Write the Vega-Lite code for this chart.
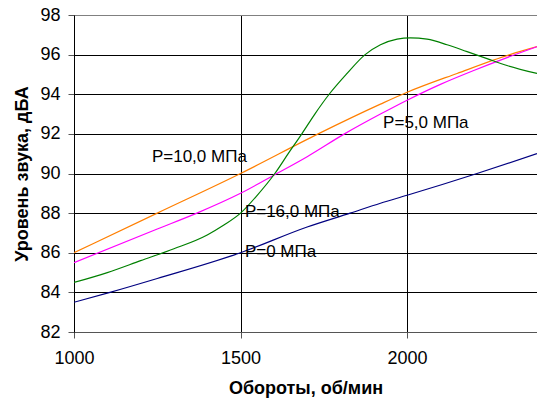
{
  "$schema": "https://vega.github.io/schema/vega-lite/v6.json",
  "autosize": "none",
  "width": 463,
  "height": 317,
  "padding": {"left": 74, "top": 15, "right": 0, "bottom": 71},
  "background": "white",
  "config": {
    "view": {"stroke": null},
    "font": "Liberation Sans"
  },
  "datasets": {
    "lines": [
      {"s": "P=0", "rpm": 1000, "db": 83.5},
      {"s": "P=0", "rpm": 1108, "db": 84.0},
      {"s": "P=0", "rpm": 1250, "db": 84.7},
      {"s": "P=0", "rpm": 1500, "db": 86.0},
      {"s": "P=0", "rpm": 1700, "db": 87.3},
      {"s": "P=0", "rpm": 1829, "db": 88.0},
      {"s": "P=0", "rpm": 1920, "db": 88.5},
      {"s": "P=0", "rpm": 2000, "db": 88.9},
      {"s": "P=0", "rpm": 2210, "db": 90.0},
      {"s": "P=0", "rpm": 2390, "db": 91.0},
      {"s": "P=10", "rpm": 1000, "db": 86.0},
      {"s": "P=10", "rpm": 1250, "db": 88.0},
      {"s": "P=10", "rpm": 1500, "db": 90.0},
      {"s": "P=10", "rpm": 1733, "db": 92.0},
      {"s": "P=10", "rpm": 1920, "db": 93.5},
      {"s": "P=10", "rpm": 2000, "db": 94.1},
      {"s": "P=10", "rpm": 2150, "db": 95.05},
      {"s": "P=10", "rpm": 2309, "db": 96.0},
      {"s": "P=10", "rpm": 2390, "db": 96.4},
      {"s": "P=5", "rpm": 1000, "db": 85.5},
      {"s": "P=5", "rpm": 1250, "db": 87.2},
      {"s": "P=5", "rpm": 1369, "db": 88.0},
      {"s": "P=5", "rpm": 1500, "db": 89.0},
      {"s": "P=5", "rpm": 1609, "db": 90.0},
      {"s": "P=5", "rpm": 1700, "db": 90.85},
      {"s": "P=5", "rpm": 1812, "db": 92.0},
      {"s": "P=5", "rpm": 1920, "db": 93.0},
      {"s": "P=5", "rpm": 2000, "db": 93.7},
      {"s": "P=5", "rpm": 2100, "db": 94.5},
      {"s": "P=5", "rpm": 2200, "db": 95.2},
      {"s": "P=5", "rpm": 2300, "db": 95.85},
      {"s": "P=5", "rpm": 2390, "db": 96.4},
      {"s": "P=16", "rpm": 1000, "db": 84.5},
      {"s": "P=16", "rpm": 1100, "db": 85.0},
      {"s": "P=16", "rpm": 1200, "db": 85.6},
      {"s": "P=16", "rpm": 1300, "db": 86.2},
      {"s": "P=16", "rpm": 1400, "db": 86.9},
      {"s": "P=16", "rpm": 1450, "db": 87.4},
      {"s": "P=16", "rpm": 1500, "db": 88.0},
      {"s": "P=16", "rpm": 1550, "db": 88.9},
      {"s": "P=16", "rpm": 1603, "db": 90.0},
      {"s": "P=16", "rpm": 1643, "db": 91.0},
      {"s": "P=16", "rpm": 1684, "db": 92.0},
      {"s": "P=16", "rpm": 1723, "db": 93.0},
      {"s": "P=16", "rpm": 1766, "db": 94.0},
      {"s": "P=16", "rpm": 1817, "db": 95.0},
      {"s": "P=16", "rpm": 1874, "db": 96.0},
      {"s": "P=16", "rpm": 1920, "db": 96.5},
      {"s": "P=16", "rpm": 1970, "db": 96.78},
      {"s": "P=16", "rpm": 2010, "db": 96.85},
      {"s": "P=16", "rpm": 2060, "db": 96.78},
      {"s": "P=16", "rpm": 2120, "db": 96.5},
      {"s": "P=16", "rpm": 2180, "db": 96.15},
      {"s": "P=16", "rpm": 2240, "db": 95.8},
      {"s": "P=16", "rpm": 2300, "db": 95.45},
      {"s": "P=16", "rpm": 2390, "db": 95.05}
    ],
    "labels": [
      {"t": "P=10,0 МПа", "rpm": 1234, "db": 90.83},
      {"t": "P=5,0 МПа", "rpm": 1928, "db": 92.55},
      {"t": "P=16,0 МПа", "rpm": 1513, "db": 88.06},
      {"t": "P=0 МПа", "rpm": 1513, "db": 86.04}
    ]
  },
  "encoding": {
    "x": {
      "field": "rpm", "type": "quantitative",
      "scale": {"domain": [1000, 2390], "nice": false, "zero": false},
      "axis": {
        "values": [1000, 1500, 2000],
        "title": "Обороты, об/мин",
        "titleFont": "Liberation Sans", "titleFontSize": 18, "titleFontWeight": "bold", "titleColor": "black",
        "titlePadding": 12,
        "labelFont": "Liberation Sans", "labelFontSize": 18, "labelColor": "black", "labelPadding": 11,
        "labelFlush": false, "labelOverlap": false,
        "grid": true, "gridColor": "black", "gridWidth": 1,
        "domainColor": "#555555", "tickColor": "#555555", "tickSize": 6,
        "format": "d"
      }
    },
    "y": {
      "field": "db", "type": "quantitative",
      "scale": {"domain": [82, 98], "nice": false, "zero": false},
      "axis": {
        "values": [82, 84, 86, 88, 90, 92, 94, 96, 98],
        "title": "Уровень звука, дБА",
        "titleFont": "Liberation Sans", "titleFontSize": 18, "titleFontWeight": "bold", "titleColor": "black",
        "titlePadding": 8,
        "labelFont": "Liberation Sans", "labelFontSize": 18, "labelColor": "black", "labelPadding": 8,
        "labelOverlap": false, "labelFlush": false,
        "grid": true,
        "gridColor": {"condition": {"test": "datum.value == 98", "value": "#808080"}, "value": "black"},
        "gridWidth": 1,
        "domainColor": "black", "tickColor": "#555555", "tickSize": 6
      }
    }
  },
  "layer": [
    {
      "data": {"name": "lines"},
      "mark": {"type": "line", "strokeWidth": 1.2, "interpolate": "monotone", "clip": true},
      "encoding": {
        "color": {
          "field": "s", "type": "nominal",
          "scale": {"domain": ["P=0", "P=5", "P=10", "P=16"], "range": ["#000080", "#FF00FF", "#FF7F00", "#008000"]},
          "legend": null
        },
        "detail": {"field": "s"}
      }
    },
    {
      "data": {"name": "labels"},
      "mark": {"type": "text", "align": "left", "baseline": "middle", "font": "Liberation Sans", "fontSize": 17, "color": "black"},
      "encoding": {
        "text": {"field": "t"}
      }
    }
  ]
}
